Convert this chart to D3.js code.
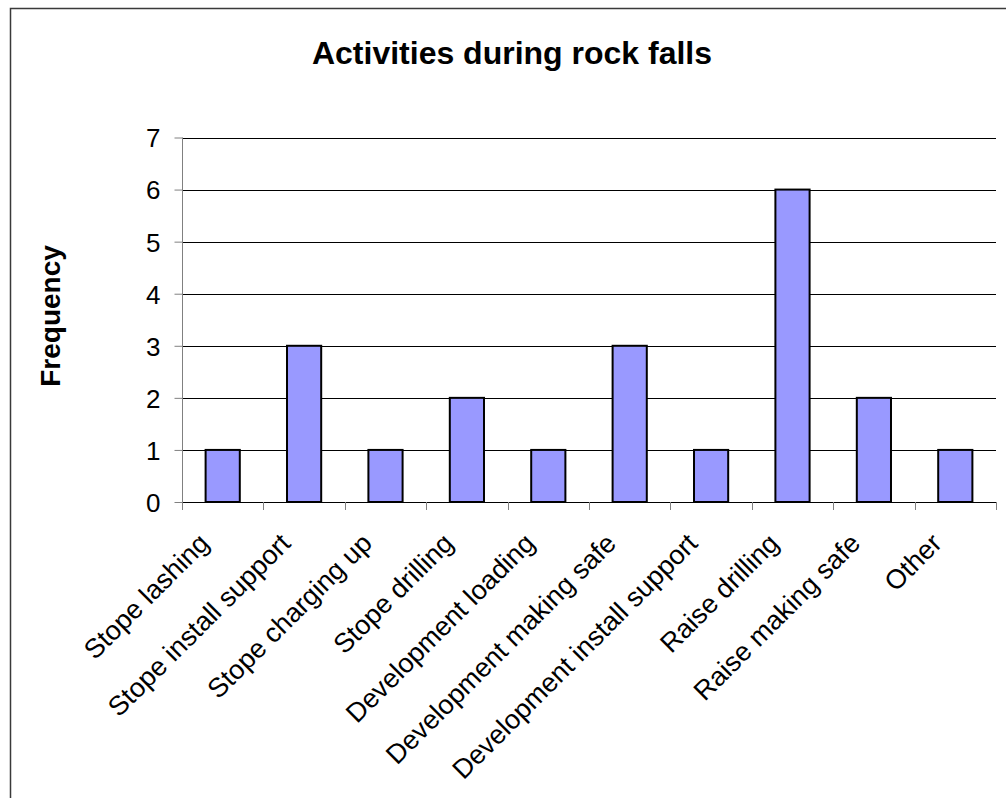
<!DOCTYPE html>
<html>
<head>
<meta charset="utf-8">
<script src="https://cdn.jsdelivr.net/npm/d3@7"></script>
<style>
  body { margin: 0; background: #fff; }
  svg { display: block; }
  text { font-family: "Liberation Sans", Arial, sans-serif; fill: #000; }
</style>
</head>
<body>
<div id="chart"></div>
<script>
// chart data
const categories = [
  "Stope lashing", "Stope install support", "Stope charging up", "Stope drilling",
  "Development loading", "Development making safe", "Development install support",
  "Raise drilling", "Raise making safe", "Other"
];
const frequency = [1, 3, 1, 2, 1, 3, 1, 6, 2, 1];
const yTicks = [0, 1, 2, 3, 4, 5, 6, 7];
const chartTitle = "Activities during rock falls";
const yTitle = "Frequency";

const width = 1006, height = 798;
const plot = { left: 182, right: 996, top: 137.5, bottom: 502 };

const svg = d3.select("#chart").append("svg")
  .attr("width", width)
  .attr("height", height);

svg.append("rect").attr("width", width).attr("height", height).attr("fill", "#fff");

// outer frame (right and bottom edges fall outside the picture)
svg.append("rect")
  .attr("x", 10.5).attr("y", 8.5)
  .attr("width", 1020).attr("height", 820)
  .attr("fill", "none")
  .attr("stroke", "#3a3a3a")
  .attr("stroke-width", 1.5);

const x = d3.scaleBand()
  .domain(categories)
  .range([plot.left, plot.right])
  .paddingInner(0.58)
  .paddingOuter(0.29);

const y = d3.scaleLinear()
  .domain([0, 7])
  .range([plot.bottom, plot.top]);

// gridlines
svg.append("g")
  .selectAll("line")
  .data(yTicks.filter(d => d > 0))
  .join("line")
  .attr("x1", plot.left).attr("x2", plot.right)
  .attr("y1", d => Math.round(y(d)) + 0.5)
  .attr("y2", d => Math.round(y(d)) + 0.5)
  .attr("stroke", "#000")
  .attr("stroke-width", 1);

// y axis
const yAxis = svg.append("g")
  .attr("transform", `translate(${plot.left + 0.5},0)`)
  .call(d3.axisLeft(y).tickValues(yTicks).tickSize(8).tickPadding(14).tickFormat(d3.format("d")));
yAxis.select(".domain").attr("stroke", "#808080").attr("d", `M0,${plot.top}V${plot.bottom + 8}`);
yAxis.selectAll(".tick line").attr("stroke", "#808080");
yAxis.selectAll(".tick text").style("font-size", "26px").attr("dy", "0.36em");

// x axis: ticks on the category boundaries
const boundaries = d3.range(categories.length + 1).map(i => plot.left + i * (plot.right - plot.left) / categories.length);
svg.append("line")
  .attr("x1", plot.left).attr("x2", plot.right)
  .attr("y1", plot.bottom + 0.5).attr("y2", plot.bottom + 0.5)
  .attr("stroke", "#000");
svg.append("g")
  .selectAll("line")
  .data(boundaries)
  .join("line")
  .attr("x1", d => Math.round(d) + 0.5).attr("x2", d => Math.round(d) + 0.5)
  .attr("y1", plot.bottom).attr("y2", plot.bottom + 8)
  .attr("stroke", "#808080");

// bars
svg.append("g")
  .selectAll("rect")
  .data(frequency)
  .join("rect")
  .attr("x", (d, i) => x(categories[i]))
  .attr("y", d => y(d))
  .attr("width", x.bandwidth())
  .attr("height", d => y(0) - y(d))
  .attr("fill", "#9999ff")
  .attr("stroke", "#000")
  .attr("stroke-width", 2);

// category labels, rotated
svg.append("g")
  .selectAll("text")
  .data(categories)
  .join("text")
  .attr("transform", d => `translate(${x(d) + x.bandwidth() / 2 - 12},545) rotate(-45)`)
  .attr("text-anchor", "end")
  .style("font-size", "27px")
  .text(d => d);

// titles
svg.append("text")
  .attr("x", 512).attr("y", 64)
  .attr("text-anchor", "middle")
  .style("font-size", "32px")
  .style("font-weight", "bold")
  .text(chartTitle);

svg.append("text")
  .attr("transform", "translate(60,316) rotate(-90)")
  .attr("text-anchor", "middle")
  .style("font-size", "28px")
  .style("font-weight", "bold")
  .text(yTitle);
</script>
</body>
</html>
